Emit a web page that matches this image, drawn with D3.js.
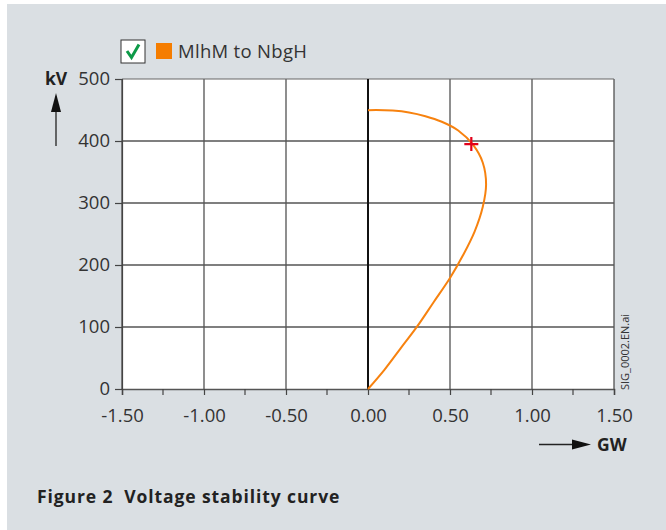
<!DOCTYPE html>
<html><head><meta charset="utf-8">
<script src="https://cdn.jsdelivr.net/npm/d3@7"></script>
<style>body{margin:0;background:#fff}svg{display:block}text{font-family:"Open Sans","Noto Sans",sans-serif;white-space:pre}</style>
</head><body>
<svg id="c" width="666" height="530"></svg>
<script>
const seriesName = "MlhM to NbgH";
const powerGW = [0, 0.10, 0.20, 0.30, 0.40, 0.50, 0.58, 0.65, 0.70, 0.72, 0.70, 0.64, 0.55, 0.45, 0.35, 0.25, 0.15, 0.05, 0];
const voltageKV = [0, 31, 66, 101, 140, 179, 216, 254, 294, 330, 365, 394, 417, 431, 440, 446, 449, 450, 449.5];
const markerPoint = [0.63, 395];
const xTicks = [-1.5, -1.0, -0.5, 0, 0.5, 1.0, 1.5];
const xTickLabels = ["-1.50", "-1.00", "-0.50", "0.00", "0.50", "1.00", "1.50"];
const xMinorTicks = [-1.25, -0.75, -0.25, 0.25, 0.75, 1.25];
const yTicks = [0, 100, 200, 300, 400, 500];
const xLabel = "GW", yLabel = "kV";
const caption = "Figure 2  Voltage stability curve";
const fileTag = "SIG_0002.EN.ai";

const svg = d3.select("#c");
svg.append("rect").attr("x",7).attr("y",4).attr("width",659).attr("height",526).attr("fill","#dadfe3");

const L=122, R=614, T=79, B=389;
const x = d3.scaleLinear().domain([-1.5,1.5]).range([L,R]);
const y = d3.scaleLinear().domain([0,500]).range([B,T]);

svg.append("rect").attr("x",L).attr("y",T).attr("width",R-L).attr("height",B-T).attr("fill","#fff");

// grid
const g = svg.append("g");
g.selectAll(".vg").data(xTicks.filter(d=>d!==0)).join("line")
  .attr("x1",d=>x(d)).attr("x2",d=>x(d)).attr("y1",T).attr("y2",B)
  .attr("stroke","#444").attr("stroke-width",1.2);
g.selectAll(".hg").data(yTicks.filter(d=>d!==0)).join("line")
  .attr("x1",L).attr("x2",R).attr("y1",d=>y(d)).attr("y2",d=>y(d))
  .attr("stroke",d=>(d===500)?"#666":"#555").attr("stroke-width",d=>(d===500)?1.2:1.5);

// zero line
g.append("line").attr("x1",x(0)).attr("x2",x(0)).attr("y1",T).attr("y2",B).attr("stroke","#111").attr("stroke-width",2);

// axes
const xAxis = svg.append("g").attr("transform",`translate(0,${B})`)
  .call(d3.axisBottom(x).tickValues(xTicks).tickSize(6).tickFormat((d,i)=>xTickLabels[i]));
xAxis.select(".domain").attr("stroke","#555").attr("stroke-width",1.5);
xAxis.selectAll(".tick line").attr("stroke","#444").attr("stroke-width",1.2);
xAxis.selectAll("text").attr("font-size",18.5).attr("fill","#333").attr("dy","1.3em");
svg.append("g").selectAll("line").data(xMinorTicks).join("line")
  .attr("x1",d=>x(d)).attr("x2",d=>x(d)).attr("y1",B).attr("y2",B+6).attr("stroke","#444").attr("stroke-width",1.2);

const yAxis = svg.append("g").attr("transform",`translate(${L},0)`)
  .call(d3.axisLeft(y).tickValues(yTicks).tickSize(7).tickPadding(5));
yAxis.select(".domain").attr("stroke","#444").attr("stroke-width",1.2);
yAxis.selectAll(".tick line").attr("stroke","#444").attr("stroke-width",1.2);
yAxis.selectAll("text").attr("font-size",18.5).attr("fill","#333");

// curve
const pts = powerGW.map((p,i)=>[p, voltageKV[i]]);
svg.append("path").datum(pts)
  .attr("d", d3.line().x(d=>x(d[0])).y(d=>y(d[1])).curve(d3.curveCatmullRom.alpha(0.5)))
  .attr("fill","none").attr("stroke","#f7820f").attr("stroke-width",2);

// marker
const mx = x(markerPoint[0]), my = y(markerPoint[1]);
svg.append("path").attr("d",`M${mx-7},${my}H${mx+7}M${mx},${my-7}V${my+7}`)
  .attr("stroke","#e2001a").attr("stroke-width",2.2);

// legend
svg.append("rect").attr("x",121).attr("y",40).attr("width",24).attr("height",23).attr("fill","#fff").attr("stroke","#333").attr("stroke-width",1);
svg.append("path").attr("d","M127,51 L131.5,57.5 L139,44.5").attr("fill","none").attr("stroke","#0d9a48").attr("stroke-width",3);
svg.append("rect").attr("x",156).attr("y",43).attr("width",16).attr("height",16).attr("fill","#f57d00");
svg.append("text").attr("x",178).attr("y",57.5).attr("font-size",18.5).attr("letter-spacing",0.3).attr("fill","#333").text(seriesName);

// axis labels with arrows
svg.append("text").attr("x",45).attr("y",85).attr("font-size",17.5).attr("font-weight","bold").attr("fill","#222").text(yLabel);
svg.append("line").attr("x1",56).attr("x2",56).attr("y1",146).attr("y2",108).attr("stroke","#222").attr("stroke-width",1.3);
svg.append("path").attr("d","M56,93 L51,112 L61,112 Z").attr("fill","#111");

svg.append("text").attr("x",597).attr("y",451).attr("font-size",17.5).attr("font-weight","bold").attr("fill","#222").text(xLabel);
svg.append("line").attr("x1",539).attr("x2",575).attr("y1",444.5).attr("y2",444.5).attr("stroke","#222").attr("stroke-width",1.3);
svg.append("path").attr("d","M591,444.5 L572,439.5 L572,449.5 Z").attr("fill","#111");

// file tag
svg.append("text").attr("transform","translate(629,390) rotate(-90)").attr("font-size",11).attr("fill","#333").text(fileTag);

// caption
svg.append("text").attr("x",37).attr("y",503).attr("font-size",17.5).attr("letter-spacing",0.9).attr("font-weight","bold").attr("fill","#222").text(caption);
</script>
</body></html>
